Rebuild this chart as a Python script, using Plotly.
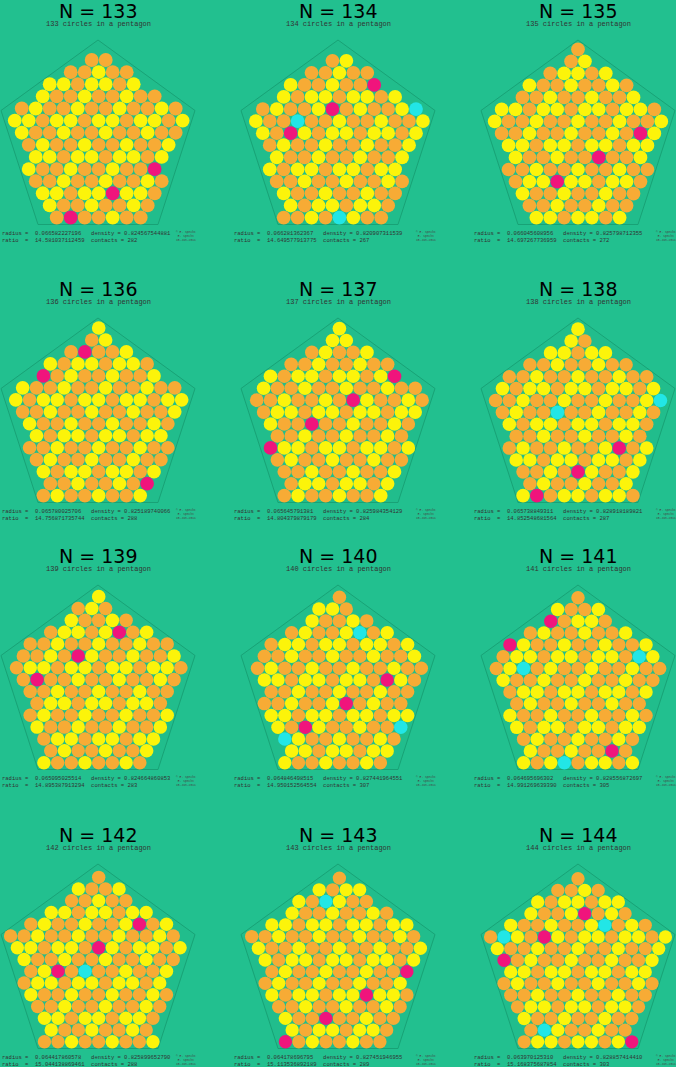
import numpy as np
import plotly.graph_objects as go

N_vals = [133, 134, 135, 136, 137, 138, 139, 140, 141, 142, 143, 144]
radius = ["0.066582227196", "0.066281362367", "0.066045608956", "0.065780025706", "0.065645791381", "0.065738849311",
          "0.065095025514", "0.064846498515", "0.064695696302", "0.064417860578", "0.064178696795", "0.063970125310"]
density = ["0.824567544881", "0.820907311539", "0.825798712355", "0.825189740066", "0.825984354129", "0.828918189821",
           "0.824664860853", "0.827441964551", "0.828556872697", "0.825899652790", "0.827451946955", "0.828857414410"]
ratio = ["14.581037112459", "14.649577913775", "14.697267736959", "14.756871735744", "14.804379879179", "14.852548681564",
         "14.895387913294", "14.950152564554", "14.991269639390", "15.044138869461", "15.113536892189", "15.168375687854"]
contacts = [282, 267, 272, 288, 284, 287, 283, 307, 305, 288, 289, 303]
row_off = [0, 278, 545, 824]
col_off = [0, 240, 480]

BG = "#22c08f"
ORANGE, YELLOW, MAGENTA, CYAN = "#f7ab35", "#fcf40a", "#f0147c", "#22e6e6"

fig = go.Figure()
shapes, ann = [], []
for k, N in enumerate(N_vals):
    ox, oy = col_off[k % 3], row_off[k // 3]
    cx, cy, R = ox + 98, oy + 142, 102.0
    r = R / float(ratio[k])
    ang = np.deg2rad(-90 + 72 * np.arange(5))
    vx, vy = cx + R * np.cos(ang), cy + R * np.sin(ang)
    path = "M " + " L ".join(f"{a:.1f},{b:.1f}" for a, b in zip(vx, vy)) + " Z"
    shapes.append(dict(type="path", path=path, line=dict(color="#179a70", width=0.8), fillcolor="#21bd8c", layer="below"))
    apo = R * np.cos(np.pi / 5)
    d = 2 * r * 1.0
    pts = []
    ybot = cy + apo - r
    for i in range(60):
        y = ybot - i * d * 0.866
        for j in range(-40, 41):
            x = cx + j * d + (i % 2) * d / 2 + (N % 3) * 0.7
            ok = True
            for m in range(5):
                a1 = np.deg2rad(-90 + 72 * m + 36)
                nx, ny = np.cos(a1), np.sin(a1)
                if (x - cx) * nx + (y - cy) * ny > apo - r + 0.01:
                    ok = False
                    break
            if ok:
                pts.append((x, y, i, j))
    pts.sort(key=lambda p: (p[0] - cx) ** 2 + (p[1] - cy) ** 2)
    pts = pts[:N]
    xs, ys, cols = [], [], []
    for (x, y, i, j) in pts:
        h = (i * 7 + j * 3 + N) % 9
        c = YELLOW if h < 4 else ORANGE
        if (i * 13 + j * 5 + N) % 41 == 0:
            c = MAGENTA
        elif (i * 11 + j * 7 + N) % 67 == 0 and N in (134, 138, 140, 141, 142, 143, 144):
            c = CYAN
        xs.append(x); ys.append(y); cols.append(c)
    fig.add_trace(go.Scatter(x=xs, y=ys, mode="markers", hoverinfo="skip",
                             marker=dict(size=2 * r * 0.99, color=cols, line=dict(width=0))))
    tx = ox - 8 if ox > 0 else 0
    ann.append(dict(x=cx, y=oy + 11, text=f"N = {N}", showarrow=False, font=dict(size=19, color="black", family="DejaVu Sans")))
    ann.append(dict(x=cx, y=oy + 24, text=f"{N} circles in a pentagon", showarrow=False, font=dict(size=7, color="#333", family="Liberation Mono")))
    ann.append(dict(x=tx, y=oy + 233, xanchor="left", showarrow=False,
                    text=f"radius =  {radius[k]}   density = {density[k]}", font=dict(size=5.5, color="#333", family="Liberation Mono")))
    ann.append(dict(x=tx, y=oy + 240, xanchor="left", showarrow=False,
                    text=f"ratio  =  {ratio[k]}  contacts = {contacts[k]}", font=dict(size=5.5, color="#333", family="Liberation Mono")))
    ann.append(dict(x=ox + 174, y=oy + 236, xanchor="left", showarrow=False,
                    text="© E. Specht<br>E. Specht<br>15-Jun-2011", font=dict(size=3, color="#444", family="Liberation Mono")))

fig.update_layout(width=676, height=1067, margin=dict(l=0, r=0, t=0, b=0), showlegend=False,
                  paper_bgcolor=BG, plot_bgcolor=BG, shapes=shapes, annotations=ann,
                  xaxis=dict(range=[0, 676], visible=False, fixedrange=True),
                  yaxis=dict(range=[1067, 0], visible=False, fixedrange=True))
fig.write_html("out.html", config={"displayModeBar": False},
               post_script="document.body.style.margin='0';document.body.style.background='#22c08f';")
